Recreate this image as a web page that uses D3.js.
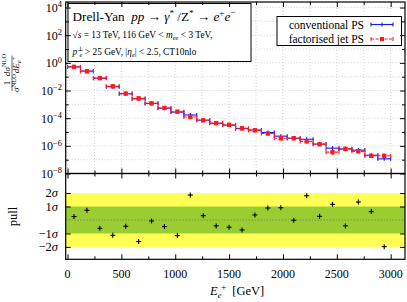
<!DOCTYPE html>
<html>
<head>
<meta charset="utf-8">
<script src="https://cdn.jsdelivr.net/npm/d3@7"></script>
<style>
  html, body { margin: 0; padding: 0; background: #fff; }
  svg { display: block; font-family: "Liberation Serif", "DejaVu Serif", serif; }
</style>
</head>
<body>
<svg id="chart" width="407" height="302"></svg>
<script>
// bin edges in GeV (120 GeV bins)
var binEdges = [0, 120, 240, 360, 480, 600, 720, 840, 960, 1080, 1200, 1320, 1440,
  1560, 1680, 1800, 1920, 2040, 2160, 2280, 2400, 2520, 2640, 2760, 2880, 3000];

// normalised distribution, conventional PS
var convVals = [5.15e-1, 2.55e-1, 7.7e-2, 1.9e-2, 5.8e-3, 2.5e-3, 1.17e-3, 5.3e-4, 2.75e-4, 1.7e-4,
  7.2e-5, 4.25e-5, 3.15e-5, 1.74e-5, 1.38e-5, 9.1e-6, 5.0e-6, 3.55e-6, 3.0e-6, 1.34e-6,
  6.8e-7, 5.9e-7, 4.9e-7, 2.1e-7, 1.15e-7];
// normalised distribution, factorised jet PS
var factVals = [5.1e-1, 2.45e-1, 7.9e-2, 2.0e-2, 6.0e-3, 2.7e-3, 1.18e-3, 5.5e-4, 2.95e-4, 1.23e-4,
  7.0e-5, 4.4e-5, 3.3e-5, 1.85e-5, 1.32e-5, 7.8e-6, 3.5e-6, 3.55e-6, 2.1e-6, 1.3e-6,
  3.5e-7, 6.1e-7, 4.0e-7, 1.9e-7, 1.9e-7];
// relative statistical errors
var convErr = [0.01, 0.015, 0.02, 0.03, 0.04, 0.05, 0.05, 0.06, 0.07, 0.08, 0.09, 0.1, 0.1,
  0.11, 0.12, 0.12, 0.13, 0.14, 0.14, 0.15, 0.16, 0.17, 0.17, 0.18, 0.2];
var factErr = [0.01, 0.02, 0.03, 0.04, 0.05, 0.06, 0.07, 0.08, 0.09, 0.1, 0.11, 0.12, 0.13,
  0.14, 0.15, 0.16, 0.2, 0.18, 0.22, 0.2, 0.35, 0.22, 0.24, 0.25, 0.27];
// pull between the two
var pulls = [0.25, 0.72, -0.62, -1.14, -0.47, -1.6, -0.07, -0.49, -1.16, 1.85, 0.32, -0.44, -0.54,
  -0.74, 0.37, 0.89, 0.91, -0.02, 1.8, 0.27, 1.16, -0.44, 1.33, 0.62, -1.98];

var xTicks = [0, 500, 1000, 1500, 2000, 2500, 3000];
var yExpMajor = [-8, -6, -4, -2, 0, 2, 4];
var pullTicks = [-2, -1, 1, 2];

var svg = d3.select('#chart');
var L = 65.7, R = 405, T = 2, M = 173.5, B = 259.3;

var x = d3.scaleLinear().domain([-17, 3133]).range([L, R]);
var y = d3.scaleLog().domain([1e-8, Math.pow(10, 4.4)]).range([M, T]);
var yp = d3.scaleLinear().domain([-2.92, 3.45]).range([B, M]);

var bins = binEdges.slice(0, -1).map(function(lo, i){
  return { lo: lo, hi: binEdges[i + 1], mid: (lo + binEdges[i + 1]) / 2,
    conv: convVals[i], fact: factVals[i], ce: convErr[i], fe: factErr[i], pull: pulls[i] };
});

// rich text helper: parts = [[text, style, dx]], style among '', 'i', 'sup', 'sub', 'supi', 'subi'
function rich(sel, parts, size){
  var shift = 0;
  parts.forEach(function(p){
    var st = p[1] || '', target = 0, fs = size;
    if (st.indexOf('sup') === 0) { target = -size * 0.38; fs = size * 0.7; }
    if (st.indexOf('sub') === 0) { target = size * 0.22; fs = size * 0.7; }
    var t = sel.append('tspan').text(p[0]).attr('font-size', fs)
      .attr('dy', target - shift);
    if (p[2] != null) t.attr('dx', p[2]);
    if (st === 'i' || st === 'supi' || st === 'subi') t.attr('font-style', 'italic');
    shift = target;
  });
}

// ---------- top panel ----------
var topG = svg.append('g');
var grid = topG.append('g').attr('stroke', '#c8c8c8').attr('stroke-dasharray', '1,2').attr('stroke-width', 0.8);
d3.range(-7, 5).forEach(function(e){
  grid.append('line').attr('x1', L).attr('x2', R).attr('y1', y(Math.pow(10, e))).attr('y2', y(Math.pow(10, e)));
});
d3.range(0, 3001, 250).forEach(function(v){
  grid.append('line').attr('x1', x(v)).attr('x2', x(v)).attr('y1', T).attr('y2', M);
});

// info box
var info = topG.append('g');
info.append('rect').attr('x', 68).attr('y', 3.5).attr('width', 183).attr('height', 58)
  .attr('fill', '#fff').attr('stroke', '#000').attr('stroke-width', 1);
rich(info.append('text').attr('x', 72.5).attr('y', 21), [
  ['Drell-Yan\u2002', ''], ['pp', 'i'], [' \u2192 ', ''], ['\u03b3', 'i'], ['*', 'sup'],
  [' /Z', ''], ['*', 'sup'], [' \u2192 ', ''], ['e', 'i'], ['+', 'sup'], ['e', 'i'], ['\u2212', 'sup']
], 13.2);
rich(info.append('text').attr('x', 72.5).attr('y', 38), [
  ['\u221a', ''], ['s', 'i'], [' = 13 TeV, 116 GeV < ', ''], ['m', 'i'], ['ee', 'subi'], [' < 3 TeV,', '']
], 9.4);
rich(info.append('text').attr('x', 72.5).attr('y', 55), [
  ['p', 'i'], ['\u22a5', 'sup'], ['e', 'subi', -3.8], [' > 25 GeV, |', ''], ['\u03b7', 'i'], ['e', 'subi'],
  ['| < 2.5, CT10nlo', '']
], 9.4);

// legend
var leg = topG.append('g');
leg.append('rect').attr('x', 277).attr('y', 16.5).attr('width', 124.5).attr('height', 29)
  .attr('fill', '#fff').attr('stroke', '#000').attr('stroke-width', 1);
leg.append('text').attr('x', 364).attr('y', 28.5).attr('text-anchor', 'end').attr('font-size', 11.5).text('conventional PS');
leg.append('text').attr('x', 364).attr('y', 43).attr('text-anchor', 'end').attr('font-size', 11.5).text('factorised jet PS');

var series = [
  { key: 'conv', err: 'ce', color: '#1515ff', dash: null, square: false, ly: 24.5 },
  { key: 'fact', err: 'fe', color: '#ff1a1a', dash: '3,1.5', square: true, ly: 39 }
];

series.forEach(function(s){
  var lg = leg.append('g').attr('stroke', s.color).attr('stroke-width', 1.1);
  lg.append('line').attr('x1', 371).attr('x2', 393).attr('y1', s.ly).attr('y2', s.ly).attr('stroke-dasharray', s.dash);
  [371, 382, 393].forEach(function(px){
    lg.append('line').attr('x1', px).attr('x2', px).attr('y1', s.ly - 2).attr('y2', s.ly + 2);
  });
  if (s.square) lg.append('rect').attr('x', 380).attr('y', s.ly - 2).attr('width', 4).attr('height', 4)
    .attr('fill', s.color).attr('stroke', 'none');

  var g = topG.append('g').attr('stroke', s.color).attr('stroke-width', 1.1);
  bins.forEach(function(b){
    var v = b[s.key], e = b[s.err], yy = y(v);
    g.append('line').attr('x1', x(b.lo)).attr('x2', x(b.hi)).attr('y1', yy).attr('y2', yy)
      .attr('stroke-dasharray', s.dash);
    [b.lo, b.hi].forEach(function(xv){
      g.append('line').attr('x1', x(xv)).attr('x2', x(xv)).attr('y1', yy - 2).attr('y2', yy + 2);
    });
    var y1 = y(v * (1 + e)), y2 = y(v * (1 - e));
    g.append('line').attr('x1', x(b.mid)).attr('x2', x(b.mid))
      .attr('y1', Math.min(y1, yy - 2)).attr('y2', Math.max(y2, yy + 2));
    if (s.square) g.append('rect').attr('x', x(b.mid) - 2.2).attr('y', yy - 2.2)
      .attr('width', 4.4).attr('height', 4.4).attr('fill', s.color).attr('stroke', 'none');
  });
});

// top frame and ticks
function ticksOnly(g){ g.select('.domain').remove(); g.selectAll('line').attr('stroke', '#000'); }
var majorY = yExpMajor.map(function(e){ return Math.pow(10, e); });
var minorY = d3.range(-7, 4, 2).map(function(e){ return Math.pow(10, e); });
topG.append('g').attr('transform', 'translate(' + L + ',0)')
  .call(d3.axisLeft(y).tickValues(majorY).tickSize(-5).tickFormat('')).call(ticksOnly);
topG.append('g').attr('transform', 'translate(' + L + ',0)')
  .call(d3.axisLeft(y).tickValues(minorY).tickSize(-3).tickFormat('')).call(ticksOnly);
topG.append('g').attr('transform', 'translate(' + R + ',0)')
  .call(d3.axisRight(y).tickValues(majorY).tickSize(-5).tickFormat('')).call(ticksOnly);
topG.append('g').attr('transform', 'translate(' + R + ',0)')
  .call(d3.axisRight(y).tickValues(minorY).tickSize(-3).tickFormat('')).call(ticksOnly);
var xMinor = d3.range(250, 3001, 500);
[[T, 'top'], [M, 'bottom']].forEach(function(a){
  var ax = a[1] === 'top' ? d3.axisBottom : d3.axisTop;
  topG.append('g').attr('transform', 'translate(0,' + a[0] + ')')
    .call(ax(x).tickValues(xTicks).tickSize(5).tickFormat('')).call(ticksOnly);
  topG.append('g').attr('transform', 'translate(0,' + a[0] + ')')
    .call(ax(x).tickValues(xMinor).tickSize(3).tickFormat('')).call(ticksOnly);
});
topG.append('rect').attr('x', L).attr('y', T).attr('width', R - L).attr('height', M - T)
  .attr('fill', 'none').attr('stroke', '#000').attr('stroke-width', 1.2);

// y labels
yExpMajor.forEach(function(e){
  var t = svg.append('text').attr('x', 62).attr('y', y(Math.pow(10, e)) + 4.5)
    .attr('text-anchor', 'end').attr('font-size', 12);
  rich(t, [['10', ''], [e < 0 ? '\u2212' + (-e) : String(e), 'sup']], 12);
});

// y title, rotated
var yt = svg.append('g').attr('transform', 'rotate(-90)');
var fsT = 9.2;
yt.append('text').attr('x', -83).attr('y', 9.8).attr('text-anchor', 'middle').attr('font-size', fsT).text('1');
rich(yt.append('text').attr('x', -83).attr('y', 19.3).attr('text-anchor', 'middle'),
  [['\u03c3', 'i'], ['NLO', 'sup']], fsT);
yt.append('line').attr('x1', -91).attr('x2', -75).attr('y1', 12).attr('y2', 12).attr('stroke', '#000').attr('stroke-width', 0.6);
rich(yt.append('text').attr('x', -65).attr('y', 9.8).attr('text-anchor', 'middle'),
  [['d\u03c3', 'i'], ['NLO', 'sup']], fsT);
rich(yt.append('text').attr('x', -65).attr('y', 19.3).attr('text-anchor', 'middle'),
  [['dE', 'i'], ['e', 'subi'], ['+', 'sup']], fsT);
yt.append('line').attr('x1', -74.5).attr('x2', -55.5).attr('y1', 12).attr('y2', 12).attr('stroke', '#000').attr('stroke-width', 0.6);

// ---------- pull panel ----------
var bot = svg.append('g');
bot.append('rect').attr('x', L).attr('y', yp(2)).attr('width', R - L).attr('height', yp(-2) - yp(2)).attr('fill', '#ffff55');
bot.append('rect').attr('x', L).attr('y', yp(1)).attr('width', R - L).attr('height', yp(-1) - yp(1)).attr('fill', '#9acd32');
bot.append('line').attr('x1', L).attr('x2', R).attr('y1', yp(0)).attr('y2', yp(0))
  .attr('stroke', '#666').attr('stroke-dasharray', '1,2').attr('stroke-width', 0.8);

var pg = bot.append('g').attr('stroke', '#000').attr('stroke-width', 1.1);
bins.forEach(function(b){
  var px = x(b.mid), py = yp(b.pull);
  pg.append('line').attr('x1', px - 2.5).attr('x2', px + 2.5).attr('y1', py).attr('y2', py);
  pg.append('line').attr('x1', px).attr('x2', px).attr('y1', py - 2.5).attr('y2', py + 2.5);
});

bot.append('g').attr('transform', 'translate(' + L + ',0)')
  .call(d3.axisLeft(yp).tickValues(pullTicks).tickSize(-5).tickFormat('')).call(ticksOnly);
bot.append('g').attr('transform', 'translate(' + R + ',0)')
  .call(d3.axisRight(yp).tickValues(pullTicks).tickSize(-5).tickFormat('')).call(ticksOnly);
bot.append('g').attr('transform', 'translate(0,' + M + ')')
  .call(d3.axisBottom(x).tickValues(xTicks).tickSize(5).tickFormat('')).call(ticksOnly);
bot.append('g').attr('transform', 'translate(0,' + M + ')')
  .call(d3.axisBottom(x).tickValues(xMinor).tickSize(3).tickFormat('')).call(ticksOnly);
bot.append('g').attr('transform', 'translate(0,' + B + ')')
  .call(d3.axisTop(x).tickValues(xTicks).tickSize(5).tickFormat('')).call(ticksOnly);
bot.append('g').attr('transform', 'translate(0,' + B + ')')
  .call(d3.axisTop(x).tickValues(xMinor).tickSize(3).tickFormat('')).call(ticksOnly);
bot.append('rect').attr('x', L).attr('y', M).attr('width', R - L).attr('height', B - M)
  .attr('fill', 'none').attr('stroke', '#000').attr('stroke-width', 1.2);

pullTicks.forEach(function(v){
  var t = svg.append('text').attr('x', 58).attr('y', yp(v) + 4.3).attr('text-anchor', 'end').attr('font-size', 12.5);
  rich(t, [[(v < 0 ? '\u2212' : '') + Math.abs(v), ''], ['\u03c3', 'i']], 12.5);
});
svg.append('text').attr('transform', 'translate(16.5,' + yp(0.25) + ') rotate(-90)')
  .attr('text-anchor', 'middle').attr('font-size', 12.5).text('pull');

// x labels
xTicks.forEach(function(v){
  svg.append('text').attr('x', x(v)).attr('y', 277.5).attr('text-anchor', 'middle').attr('font-size', 12).text(v);
});
rich(svg.append('text').attr('x', x(1575)).attr('y', 295).attr('text-anchor', 'middle'), [
  ['E', 'i'], ['e', 'subi'], ['+', 'sup', -0.5], ['\u2002[GeV]', '']
], 12.5);
</script>
</body>
</html>
